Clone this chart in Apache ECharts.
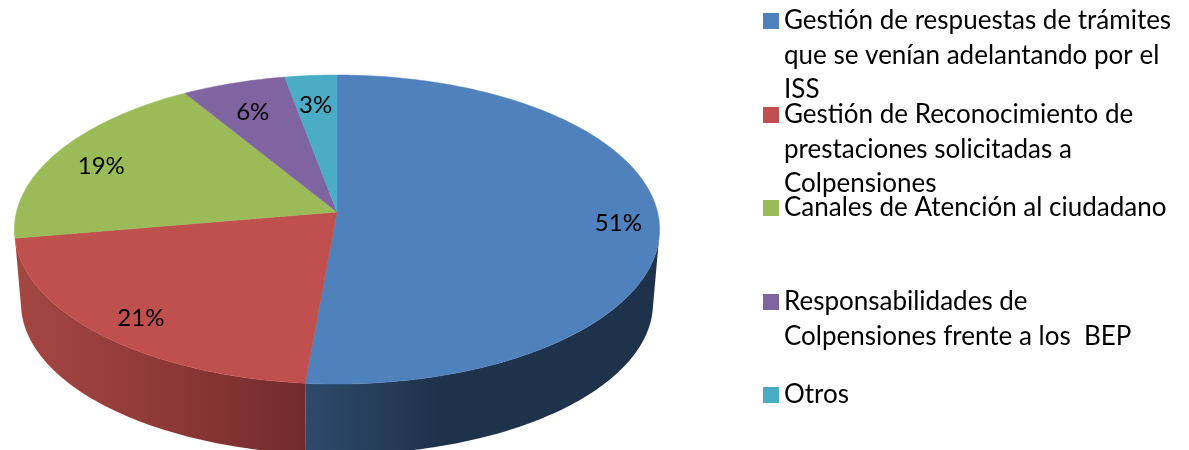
<!DOCTYPE html>
<html>
<head>
<meta charset="utf-8">
<style>
  html, body { margin: 0; padding: 0; background: #fff; }
  #main { width: 1189px; height: 450px; }
</style>
<script src="https://cdn.jsdelivr.net/npm/echarts@6/dist/echarts.min.js"></script>
</head>
<body>
<div id="main"></div>
<script>
var categories = [
  'Gestión de respuestas de trámites que se venían adelantando por el ISS',
  'Gestión de Reconocimiento de prestaciones solicitadas a Colpensiones',
  'Canales de Atención al ciudadano',
  'Responsabilidades de Colpensiones frente a los  BEP',
  'Otros'
];
var legendLines = [
  ['Gestión de respuestas de trámites', 'que se venían adelantando por el', 'ISS'],
  ['Gestión de Reconocimiento de', 'prestaciones solicitadas a', 'Colpensiones'],
  ['Canales de Atención al ciudadano'],
  ['Responsabilidades de', 'Colpensiones frente a los  BEP'],
  ['Otros']
];
var values = [51.4, 20.9, 19.0, 5.8, 2.9];
var labels = ['51%', '21%', '19%', '6%', '3%'];
var colors = ['#4F81BD', '#C0504D', '#9BBB59', '#8064A2', '#4BACC6'];
// side wall shading, from left to right of each visible wall
var wallStops = [
  [{ offset: 0, color: '#2E4A6C' }, { offset: 0.38, color: '#1F324B' }, { offset: 1, color: '#1F324B' }],
  [{ offset: 0, color: '#A44743' }, { offset: 0.4, color: '#943C3A' }, { offset: 1, color: '#722B2B' }]
];
var legendTops = [21, 115, 208, 302, 395];
// how far out along the slice each percent label sits
var labelRadius = [0.875, 0.84, 0.84, 0.8, 0.8];

var FONT = 'Lato, "Open Sans", sans-serif';
var LINE_H = 34.5;

// perspective of the tilted pie: unit circle -> screen
var CX = 337, APEX_Y = 212, R = 320.5, R_LOW = 314, DROP = 74;
var PA = 128.5, PC = -0.1133;
function project(u, v, low) {
  var w = 1 + PC * v;
  var k = low ? R_LOW / R : 1;
  return [
    CX + k * R * u / w,
    APEX_Y + (low ? DROP : 0) + k * ((PA * v + APEX_Y) / w - APEX_Y)
  ];
}
function rim(deg, low) {
  var a = deg * Math.PI / 180;
  return project(Math.sin(a), -Math.cos(a), low);
}

var total = values.reduce(function (s, v) { return s + v; }, 0);
var WALL_FROM = 100, WALL_TO = 260;

function makeRenderItem(idx) {
  var start = 0;
  for (var i = 0; i < idx; i++) start += values[i] / total * 360;
  var end = start + values[idx] / total * 360;

  return function () {
    var children = [];

    // side wall
    var a0 = Math.max(start, WALL_FROM), a1 = Math.min(end, WALL_TO);
    if (a1 > a0 && wallStops[idx]) {
      var wall = [], d;
      for (d = a0; d < a1; d += 1) wall.push(rim(d, false));
      wall.push(rim(a1, false));
      for (d = a1; d > a0; d -= 1) wall.push(rim(d, true));
      wall.push(rim(a0, true));
      var xs = wall.map(function (p) { return p[0]; });
      var x0 = Math.min.apply(null, xs), x1 = Math.max.apply(null, xs);
      children.push({
        type: 'polygon',
        shape: { points: wall },
        style: {
          fill: new echarts.graphic.LinearGradient(x0, 0, x1, 0, wallStops[idx], true)
        }
      });
    }

    // top face
    var face = [[CX, APEX_Y]];
    for (var a = start; a < end; a += 1) face.push(rim(a, false));
    face.push(rim(end, false));
    children.push({
      type: 'polygon',
      shape: { points: face },
      style: { fill: colors[idx], stroke: colors[idx], lineWidth: 0.5 }
    });

    // percent label
    var mid = (start + end) / 2 * Math.PI / 180;
    var rho = labelRadius[idx];
    var pos = project(rho * Math.sin(mid), -rho * Math.cos(mid), false);
    children.push({
      type: 'text',
      z2: 10,
      style: {
        text: labels[idx],
        x: pos[0],
        y: pos[1] + 5,
        align: 'center',
        verticalAlign: 'middle',
        font: '24px ' + FONT,
        fill: '#000'
      }
    });

    return { type: 'group', children: children };
  };
}

var option = {
  animation: false,
  backgroundColor: '#fff',
  legend: categories.map(function (name, i) {
    var n = legendLines[i].length;
    return {
      data: [name],
      left: 763,
      // blank lines on top keep the swatch beside the first text line
      top: legendTops[i] - (2 * n - 1) * LINE_H / 2,
      padding: 0,
      icon: 'rect',
      itemWidth: 16,
      itemHeight: 16,
      selectedMode: false,
      formatter: function () {
        return new Array(n).join('\n') + legendLines[i].join('\n');
      },
      textStyle: {
        fontFamily: FONT,
        fontSize: 26,
        lineHeight: LINE_H,
        color: '#000'
      }
    };
  }),
  series: categories.map(function (name, i) {
    return {
      type: 'custom',
      name: name,
      coordinateSystem: 'none',
      silent: true,
      itemStyle: { color: colors[i] },
      renderItem: makeRenderItem(i),
      data: [values[i]]
    };
  })
};

var chart = echarts.init(document.getElementById('main'));
chart.setOption(option);
</script>
</body>
</html>
